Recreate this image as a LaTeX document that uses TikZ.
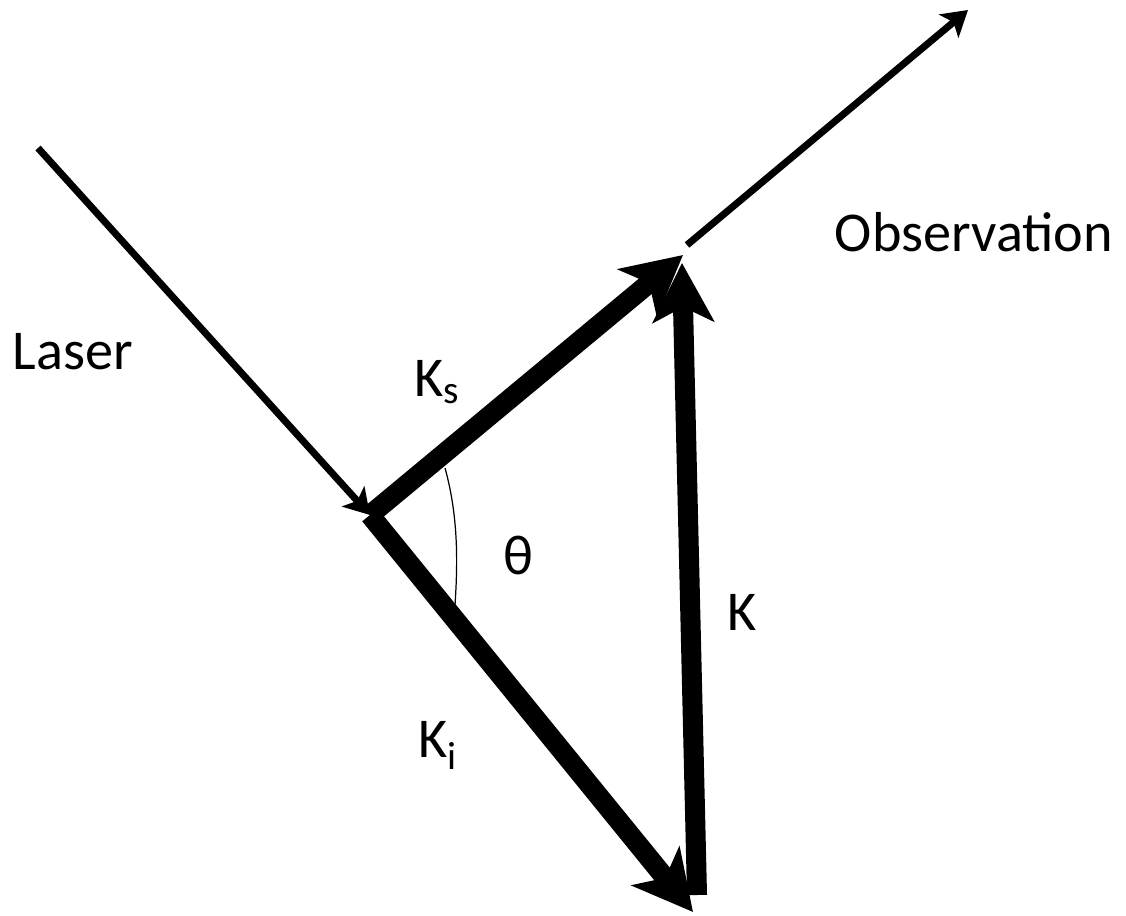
\documentclass[tikz,border=0pt]{standalone}
\usepackage{fontspec}
\setmainfont{Carlito}
\usetikzlibrary{arrows.meta}

\tikzset{
  vecbig/.style={line width=11.4pt, -{Stealth[length=1.18cm, width=1.22cm, inset=0.3cm]}},
  vecthin/.style={line width=4pt, -{Stealth[length=0.5cm, width=0.6cm, inset=0.12cm]}},
  lbl/.style={font=\fontsize{32}{38}\selectfont, inner sep=0pt}
}

\begin{document}
\begin{tikzpicture}[x=0.02cm, y=-0.02cm]

\useasboundingbox (0,0) rectangle (1126,916);

% points
\coordinate (laserstart) at (38,148);
\coordinate (O) at (370,515);
\coordinate (ks) at (683,255);
\coordinate (ki) at (693,912);
\coordinate (kbase) at (697,895);
\coordinate (kt) at (682,263);
\coordinate (obsstart) at (687,245);
\coordinate (obsend) at (968,10);

% Laser et observation
\draw[vecthin] (laserstart) -- (O);
\draw[vecthin] (obsstart) -- (obsend);

% Triangle des vecteurs
\draw[vecbig] (O) -- (ks);
\draw[vecbig] (O) -- (ki);
\draw[vecbig] (kbase) -- (kt);

% Angle
\coordinate (a1) at (445,468);
\coordinate (a2) at (455,605);
\draw[line width=0.7pt] (a1) .. controls (458,515) and (458,560) .. (a2);

% Textes
\node[lbl] (laser) at (73,352) {Laser};
\node[lbl] (obs) at (974,232) {Observation};
\node[lbl] (lks) at (437,382) {K\textsubscript{s}};
\node[lbl] (ltheta) at (518,555) {θ};
\node[lbl] (lk) at (742,612) {K};
\node[lbl] (lki) at (438,745) {K\textsubscript{i}};

\end{tikzpicture}
\end{document}
